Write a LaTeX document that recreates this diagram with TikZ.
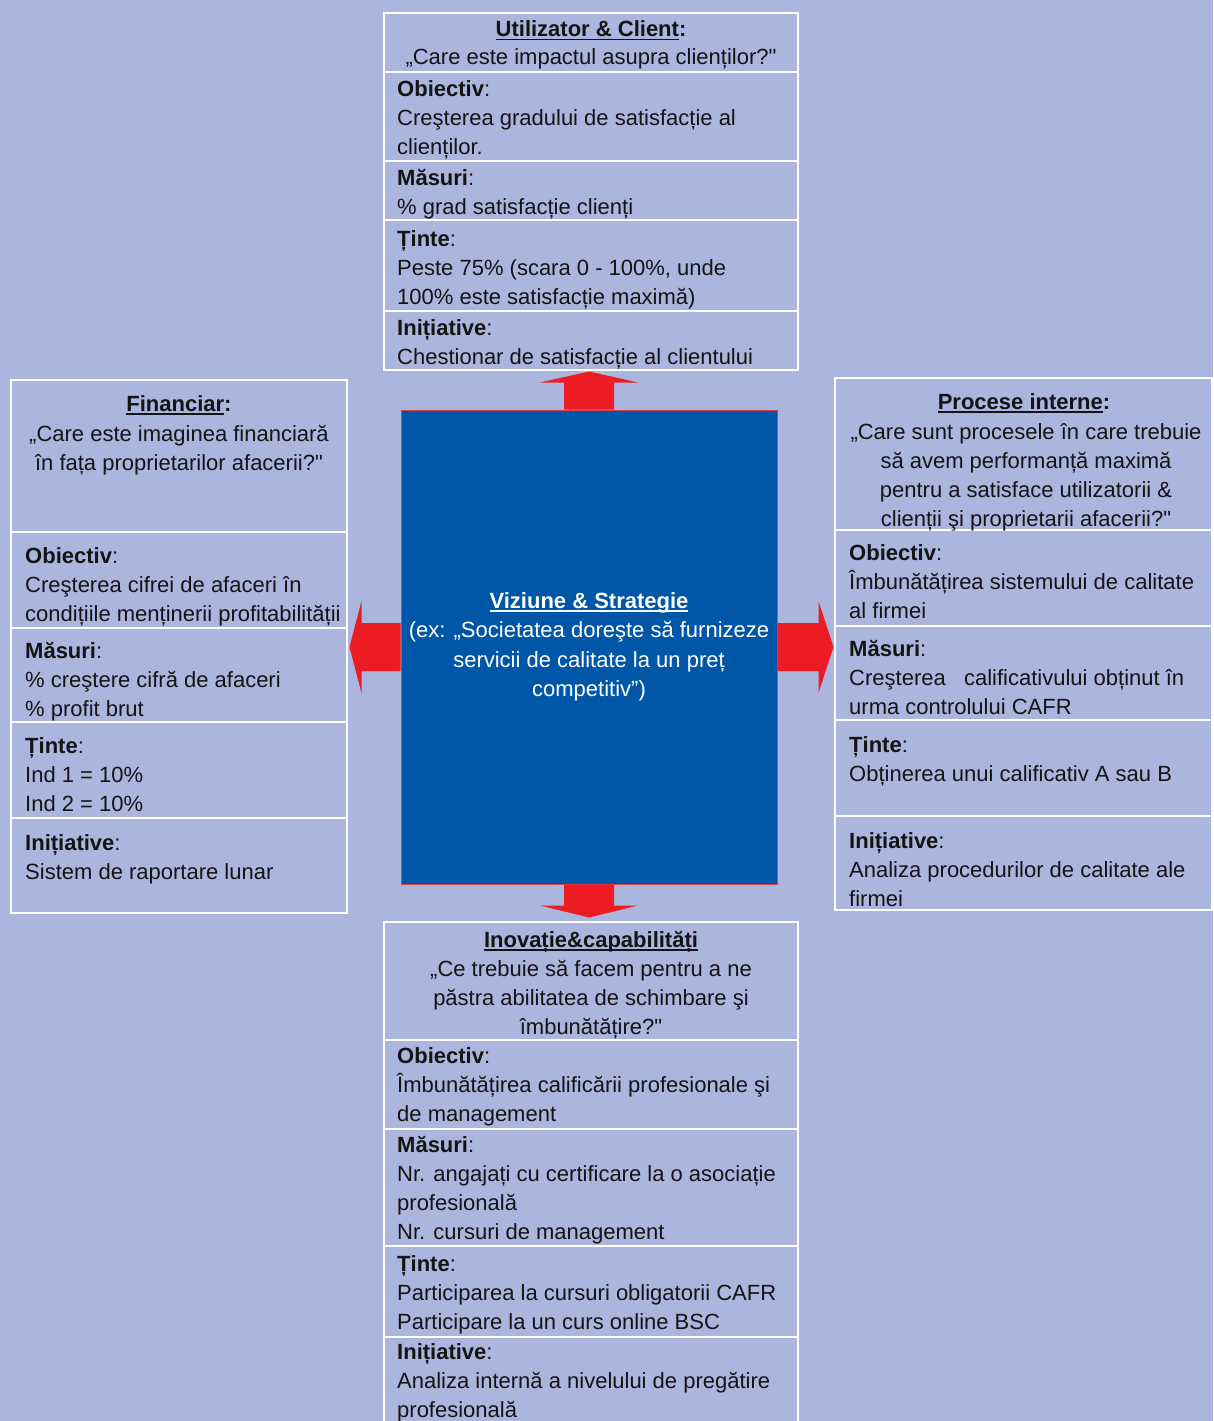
\documentclass[tikz,border=0pt]{standalone}
\usepackage{fontspec}
\setmainfont{Liberation Sans}[Ligatures=TeXOff]
\definecolor{bgblue}{HTML}{AAB6DD}
\definecolor{visionblue}{HTML}{0057A7}
\definecolor{visionred}{HTML}{E0404A}
\definecolor{arrowred}{HTML}{ED1C24}
\definecolor{ink}{HTML}{141414}

% underlined heading with a thicker rule
\newsavebox\headbox
\newcommand{\headline}[1]{\sbox\headbox{\textbf{#1}}\rlap{\rule[-3.5pt]{\wd\headbox}{1.5pt}}\usebox\headbox}

% centred lines of a question
\newcommand{\qlines}[4]{\foreach \s [count=\k] in {#4}{\node[ctxt] (#1-\k) at (#2,{#3+29*(\k-1)}) {\s};}}
% one row: bold label, then its lines
\newcommand{\kpirow}[5]{\node[txt] (#1) at (#2,#3) {\textbf{#4}:};
  \foreach \s [count=\k] in {#5}{\node[txt] (#1-\k) at (#2,{#3+29*\k}) {\s};}}
% block arrow: anchor, angle, shaft, head, shaft half, head half
\newcommand{\bigarrow}[6]{\fill[arrowred, shift={(#1)}, rotate=#2] (0,-#5) -- (#3,-#5) -- (#3,-#6) -- ({#3+#4},0) -- (#3,#6) -- (#3,#5) -- (0,#5) -- cycle;}

\tikzset{
  txt/.style={anchor=base west, inner sep=0pt, text=ink, font=\fontsize{22}{29}\selectfont},
  ctxt/.style={txt, anchor=base},
  panel/.style={draw=white, line width=2.5pt},
  vision/.style={fill=visionblue, draw=visionred, line width=1pt, minimum width=376pt, minimum height=474pt,
    inner sep=0pt, text=white, align=center, font=\fontsize{22}{29.5}\selectfont}
}

\begin{document}
\begin{tikzpicture}[x=1pt,y=-1pt]
\fill[bgblue] (0,0) rectangle (1213,1421);
\useasboundingbox (0,0) rectangle (1213,1421);

% vision in the middle
\node[vision] (vision) at (589,647) {\headline{Viziune \& Strategie}\\(ex: „Societatea doreşte să furnizeze\\servicii de calitate la un preț\\competitiv”)};
\bigarrow{vision.north}{90}{27}{11}{25}{49}
\bigarrow{vision.south}{-90}{21}{12}{25}{49}
\bigarrow{vision.east}{0}{41}{15}{24}{46}
\bigarrow{vision.west}{180}{39}{12}{24}{46}

% customer (top)
\draw[panel] (384,13) rectangle (798,370);
\foreach \y in {72,161,220,311} \draw[panel] (384,\y) -- (798,\y);
\node[ctxt] (cust) at (591,37) {\headline{Utilizator \& Client}\textbf{:}};
\qlines{custq}{591}{65}{{„Care este impactul asupra clienților?"}}
\kpirow{cust-obj}{397}{96}{Obiectiv}{{Creşterea gradului de satisfacție al},{clienților.}}
\kpirow{cust-mas}{397}{185}{Măsuri}{{\% grad satisfacție clienți}}
\kpirow{cust-tin}{397}{246}{Ținte}{{Peste 75\% (scara 0 - 100\%, unde},{100\% este satisfacție maximă)}}
\kpirow{cust-ini}{397}{335}{Inițiative}{{Chestionar de satisfacție al clientului}}

% financial (left)
\draw[panel] (11,380) rectangle (347,913);
\foreach \y in {532,628,722,818} \draw[panel] (11,\y) -- (347,\y);
\node[ctxt] (fin) at (179,411) {\headline{Financiar}\textbf{:}};
\qlines{finq}{179}{441}{{„Care este imaginea financiară},{în fața proprietarilor afacerii?"}}
\kpirow{fin-obj}{25}{563}{Obiectiv}{{Creşterea cifrei de afaceri în},{condițiile menținerii profitabilității}}
\kpirow{fin-mas}{25}{658}{Măsuri}{{\% creştere cifră de afaceri},{\% profit brut}}
\kpirow{fin-tin}{25}{753}{Ținte}{{Ind 1 = 10\%},{Ind 2 = 10\%}}
\kpirow{fin-ini}{25}{850}{Inițiative}{{Sistem de raportare lunar}}

% internal processes (right)
\draw[panel] (835,378) rectangle (1212,910);
\foreach \y in {530,626,720,816} \draw[panel] (835,\y) -- (1212,\y);
\node[ctxt] (proc) at (1024,409) {\headline{Procese interne}\textbf{:}};
\qlines{procq}{1026}{439}{{„Care sunt procesele în care trebuie},{să avem performanță maximă},{pentru a satisface utilizatorii \&},{clienții şi proprietarii afacerii?"}}
\kpirow{proc-obj}{849}{560}{Obiectiv}{{Îmbunătățirea sistemului de calitate},{al firmei}}
\kpirow{proc-mas}{849}{656}{Măsuri}{{Creşterea\ \ \ calificativului obținut în},{urma controlului CAFR}}
\kpirow{proc-tin}{849}{752}{Ținte}{{Obținerea unui calificativ A sau B}}
\kpirow{proc-ini}{849}{848}{Inițiative}{{Analiza procedurilor de calitate ale},{firmei}}

% innovation (bottom)
\draw[panel] (384,1430) -- (384,922) -- (798,922) -- (798,1430);
\foreach \y in {1040,1129,1246,1337} \draw[panel] (384,\y) -- (798,\y);
\node[ctxt] (inov) at (591,947) {\headline{Inovație\&capabilități}};
\qlines{inovq}{591}{976}{{„Ce trebuie să facem pentru a ne},{păstra abilitatea de schimbare şi},{îmbunătățire?"}}
\kpirow{inov-obj}{397}{1063}{Obiectiv}{{Îmbunătățirea calificării profesionale şi},{de management}}
\kpirow{inov-mas}{397}{1152}{Măsuri}{{Nr. angajați cu certificare la o asociație},{profesională},{Nr. cursuri de management}}
\kpirow{inov-tin}{397}{1271}{Ținte}{{Participarea la cursuri obligatorii CAFR},{Participare la un curs online BSC}}
\kpirow{inov-ini}{397}{1359}{Inițiative}{{Analiza internă a nivelului de pregătire},{profesională}}
\end{tikzpicture}
\end{document}
